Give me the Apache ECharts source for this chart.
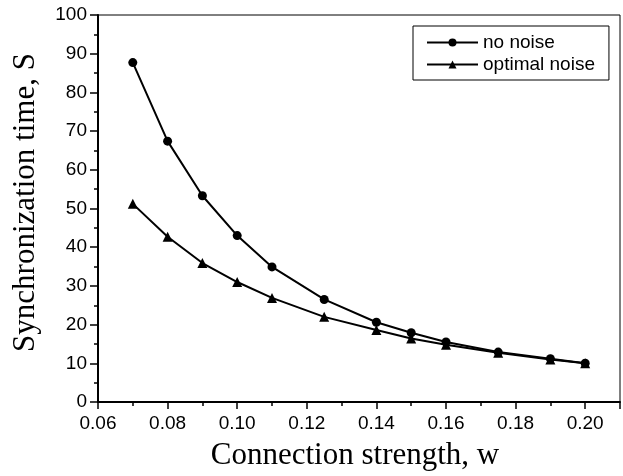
<!DOCTYPE html>
<html>
<head>
<meta charset="utf-8">
<script src="https://cdn.jsdelivr.net/npm/echarts@6/dist/echarts.min.js"></script>
<style>
  html, body { margin: 0; padding: 0; background: #fff; }
  #chart { width: 623px; height: 476px; }
</style>
</head>
<body>
<div id="chart"></div>
<script>
// Connection strength values (w)
const strength = [0.07, 0.08, 0.09, 0.10, 0.11, 0.125, 0.14, 0.15, 0.16, 0.175, 0.19, 0.20];
// Synchronization time without noise
const noNoise = [87.7, 67.4, 53.3, 43.0, 34.9, 26.5, 20.6, 17.9, 15.5, 12.9, 11.2, 10.0];
// Synchronization time with optimal noise
const optimalNoise = [51.2, 42.7, 35.9, 31.0, 26.9, 22.0, 18.6, 16.4, 14.8, 12.7, 11.0, 10.0];

const seriesNames = ['no noise', 'optimal noise'];
const xTitle = 'Connection strength, w';
const yTitle = 'Synchronization time, S';

const sans = 'Liberation Sans';
const serif = 'Liberation Serif';

const pairs = (xs, ys) => xs.map((x, i) => [x, ys[i]]);

const chart = echarts.init(document.getElementById('chart'));
chart.setOption({
  animation: false,
  backgroundColor: '#fff',
  grid: {
    left: 98, right: 1, top: 15, bottom: 73,
    show: true, borderColor: '#000', borderWidth: 1
  },
  legend: {
    orient: 'vertical',
    left: 413, top: 26,
    padding: [7, 14, 6, 13],
    itemGap: 3,
    itemWidth: 51, itemHeight: 10,
    borderColor: '#000', borderWidth: 1,
    textStyle: { fontFamily: sans, fontSize: 19, color: '#000' },
    data: seriesNames
  },
  xAxis: [{
    type: 'value',
    min: 0.06, max: 0.21, interval: 0.02,
    name: xTitle,
    nameLocation: 'middle',
    nameGap: 38,
    nameTextStyle: { fontFamily: serif, fontSize: 31, color: '#000', padding: [0, 8, 0, 0] },
    axisLine: { lineStyle: { color: '#000', width: 2 } },
    axisTick: { length: 7, lineStyle: { color: '#000', width: 1.5 } },
    minorTick: { show: false },
    splitLine: { show: false },
    axisLabel: {
      margin: 12,
      fontFamily: sans, fontSize: 19, color: '#000',
      formatter: v => (v > 0.205 ? '' : v.toFixed(2))
    }
  }, {
    // minor ticks every 0.01
    type: 'value',
    position: 'bottom',
    min: 0.06, max: 0.21, interval: 0.01,
    axisLine: { show: false },
    axisTick: { length: 4, lineStyle: { color: '#000', width: 1.5 } },
    axisLabel: { show: false },
    splitLine: { show: false }
  }],
  yAxis: {
    type: 'value',
    min: 0, max: 100, interval: 10,
    name: yTitle,
    nameLocation: 'middle',
    nameGap: 57,
    nameTextStyle: { fontFamily: serif, fontSize: 31, color: '#000', padding: [0, 0, 0, 12] },
    axisLine: { show: true, lineStyle: { color: '#000', width: 2 } },
    axisTick: { length: 8, lineStyle: { color: '#000', width: 1.5 } },
    minorTick: { show: true, splitNumber: 2, length: 4, lineStyle: { color: '#000', width: 1.5 } },
    splitLine: { show: false },
    axisLabel: { margin: 11, fontFamily: sans, fontSize: 19, color: '#000' }
  },
  series: [{
    name: seriesNames[0],
    type: 'line',
    data: pairs(strength, noNoise),
    symbol: 'circle',
    symbolSize: 9,
    itemStyle: { color: '#000' },
    lineStyle: { color: '#000', width: 2 }
  }, {
    name: seriesNames[1],
    type: 'line',
    data: pairs(strength, optimalNoise),
    symbol: 'triangle',
    symbolSize: 10,
    itemStyle: { color: '#000' },
    lineStyle: { color: '#000', width: 2 }
  }]
});
</script>
</body>
</html>
